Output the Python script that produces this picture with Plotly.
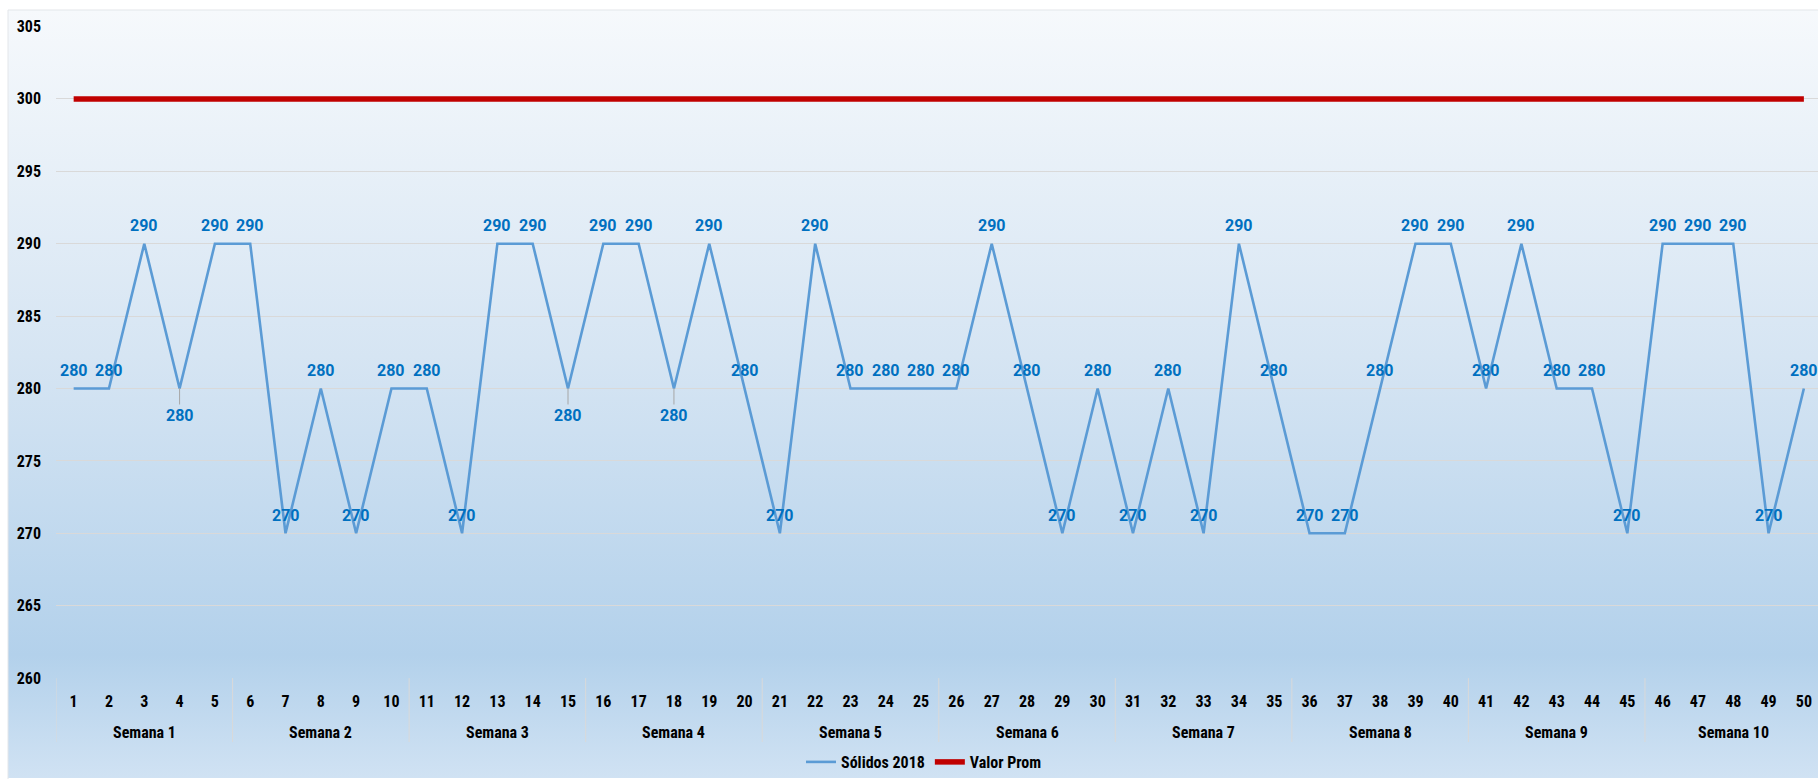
import base64
import plotly.graph_objects as go

# ---- data ----
dias = list(range(1, 51))
semanas = ["Semana 1", "Semana 2", "Semana 3", "Semana 4", "Semana 5",
           "Semana 6", "Semana 7", "Semana 8", "Semana 9", "Semana 10"]
dias_por_semana = 5

solidos_2018 = [280, 280, 290, 280, 290,
                290, 270, 280, 270, 280,
                280, 270, 290, 290, 280,
                290, 290, 280, 290, 280,
                270, 290, 280, 280, 280,
                280, 290, 280, 270, 280,
                270, 280, 270, 290, 280,
                270, 270, 280, 290, 290,
                280, 290, 280, 280, 270,
                290, 290, 290, 270, 280]
valor_prom = [300] * 50

# days whose value label sits under the point
etiqueta_abajo = {4, 15, 18}

# ---- page geometry ----
W, H = 1818, 779
PLOT_L, PLOT_TOP, PLOT_BOT = 56, 26.5, 679
def py(px):
    return (H - px) / H

NARROW = "Liberation Sans Narrow, Arial Narrow, Roboto Condensed, Liberation Sans, Arial"
BOLD_NARROW = dict(family=NARROW, size=16, color="#000000", weight="bold")
LABEL_FONT = dict(family="Roboto", size=16, color="#0070C0", weight="bold")

fig = go.Figure()

fig.add_trace(go.Scatter(
    x=dias, y=solidos_2018, name="Sólidos 2018", mode="lines",
    line=dict(color="#5B9BD5", width=2.6), hoverinfo="x+y"))
fig.add_trace(go.Scatter(
    x=dias, y=valor_prom, name="Valor Prom", mode="lines",
    line=dict(color="#C00000", width=5.5), hoverinfo="x+y"))

# value labels
anns = []
for d, v in zip(dias, solidos_2018):
    abajo = d in etiqueta_abajo
    anns.append(dict(
        x=d, y=v, xref="x", yref="y", text=str(v),
        showarrow=abajo, ax=0, ay=27, arrowhead=0, arrowwidth=1,
        arrowcolor="#a6a6a6", standoff=0,
        yshift=0 if abajo else 18,
        font=LABEL_FONT, xanchor="center", yanchor="middle"))

# week labels and dividers under the day ticks
shapes = []
for i, s in enumerate(semanas):
    grupo = dias[i * dias_por_semana:(i + 1) * dias_por_semana]
    anns.append(dict(
        x=sum(grupo) / len(grupo), y=py(733), xref="x", yref="paper",
        text=s, showarrow=False, font=BOLD_NARROW,
        xanchor="center", yanchor="middle"))
    shapes.append(dict(
        type="line", xref="x", yref="paper",
        x0=grupo[0] - 0.5, x1=grupo[0] - 0.5, y0=py(743), y1=py(PLOT_BOT),
        line=dict(color="#d9d9d9", width=1), layer="below"))

# chart frame
shapes.append(dict(type="rect", xref="paper", yref="paper",
                   x0=8 / W, x1=1.01, y0=-0.01, y1=py(10),
                   line=dict(color="#e3e6ea", width=1), layer="below"))

# soft vertical gradient behind the chart
svg = (
    '<svg xmlns="http://www.w3.org/2000/svg" width="100" height="100" '
    'preserveAspectRatio="none" viewBox="0 0 100 100">'
    '<defs><linearGradient id="g" x1="0" y1="0" x2="0" y2="1">'
    '<stop offset="0" stop-color="#f6f9fc"/>'
    '<stop offset="0.45" stop-color="#d6e5f3"/>'
    '<stop offset="0.84" stop-color="#b3d1eb"/>'
    '<stop offset="1" stop-color="#d0e2f3"/>'
    '</linearGradient></defs>'
    '<rect x="0" y="0" width="100" height="100" fill="url(#g)"/></svg>'
)
src = "data:image/svg+xml;base64," + base64.b64encode(svg.encode()).decode()

fig.update_layout(
    width=W, height=H,
    margin=dict(l=0, r=0, t=0, b=0),
    paper_bgcolor="#ffffff", plot_bgcolor="rgba(0,0,0,0)",
    images=[dict(source=src, xref="paper", yref="paper",
                 x=8 / W, y=py(10), sizex=(W - 8) / W, sizey=(H - 10) / H,
                 sizing="stretch", xanchor="left", yanchor="top", layer="below")],
    annotations=anns, shapes=shapes,
    showlegend=True,
    legend=dict(orientation="h", x=924 / W, y=py(763), xanchor="center",
                yanchor="middle", font=BOLD_NARROW, bgcolor="rgba(0,0,0,0)",
                itemwidth=30, tracegroupgap=0),
    xaxis=dict(domain=[PLOT_L / W, 1], range=[0.5, 50.4], automargin=False,
               tickmode="array", tickvals=dias, ticktext=[str(d) for d in dias],
               showgrid=False, zeroline=False, showline=False, ticks="",
               tickfont=BOLD_NARROW, ticklabelstandoff=12),
    yaxis=dict(domain=[py(PLOT_BOT), py(PLOT_TOP)], range=[260, 305], automargin=False,
               tickmode="linear", tick0=260, dtick=5,
               showgrid=True, gridcolor="#d9d9d9", gridwidth=1,
               zeroline=False, showline=False, ticks="",
               tickfont=BOLD_NARROW, ticklabelstandoff=14),
)

fig.write_html("out.html")
